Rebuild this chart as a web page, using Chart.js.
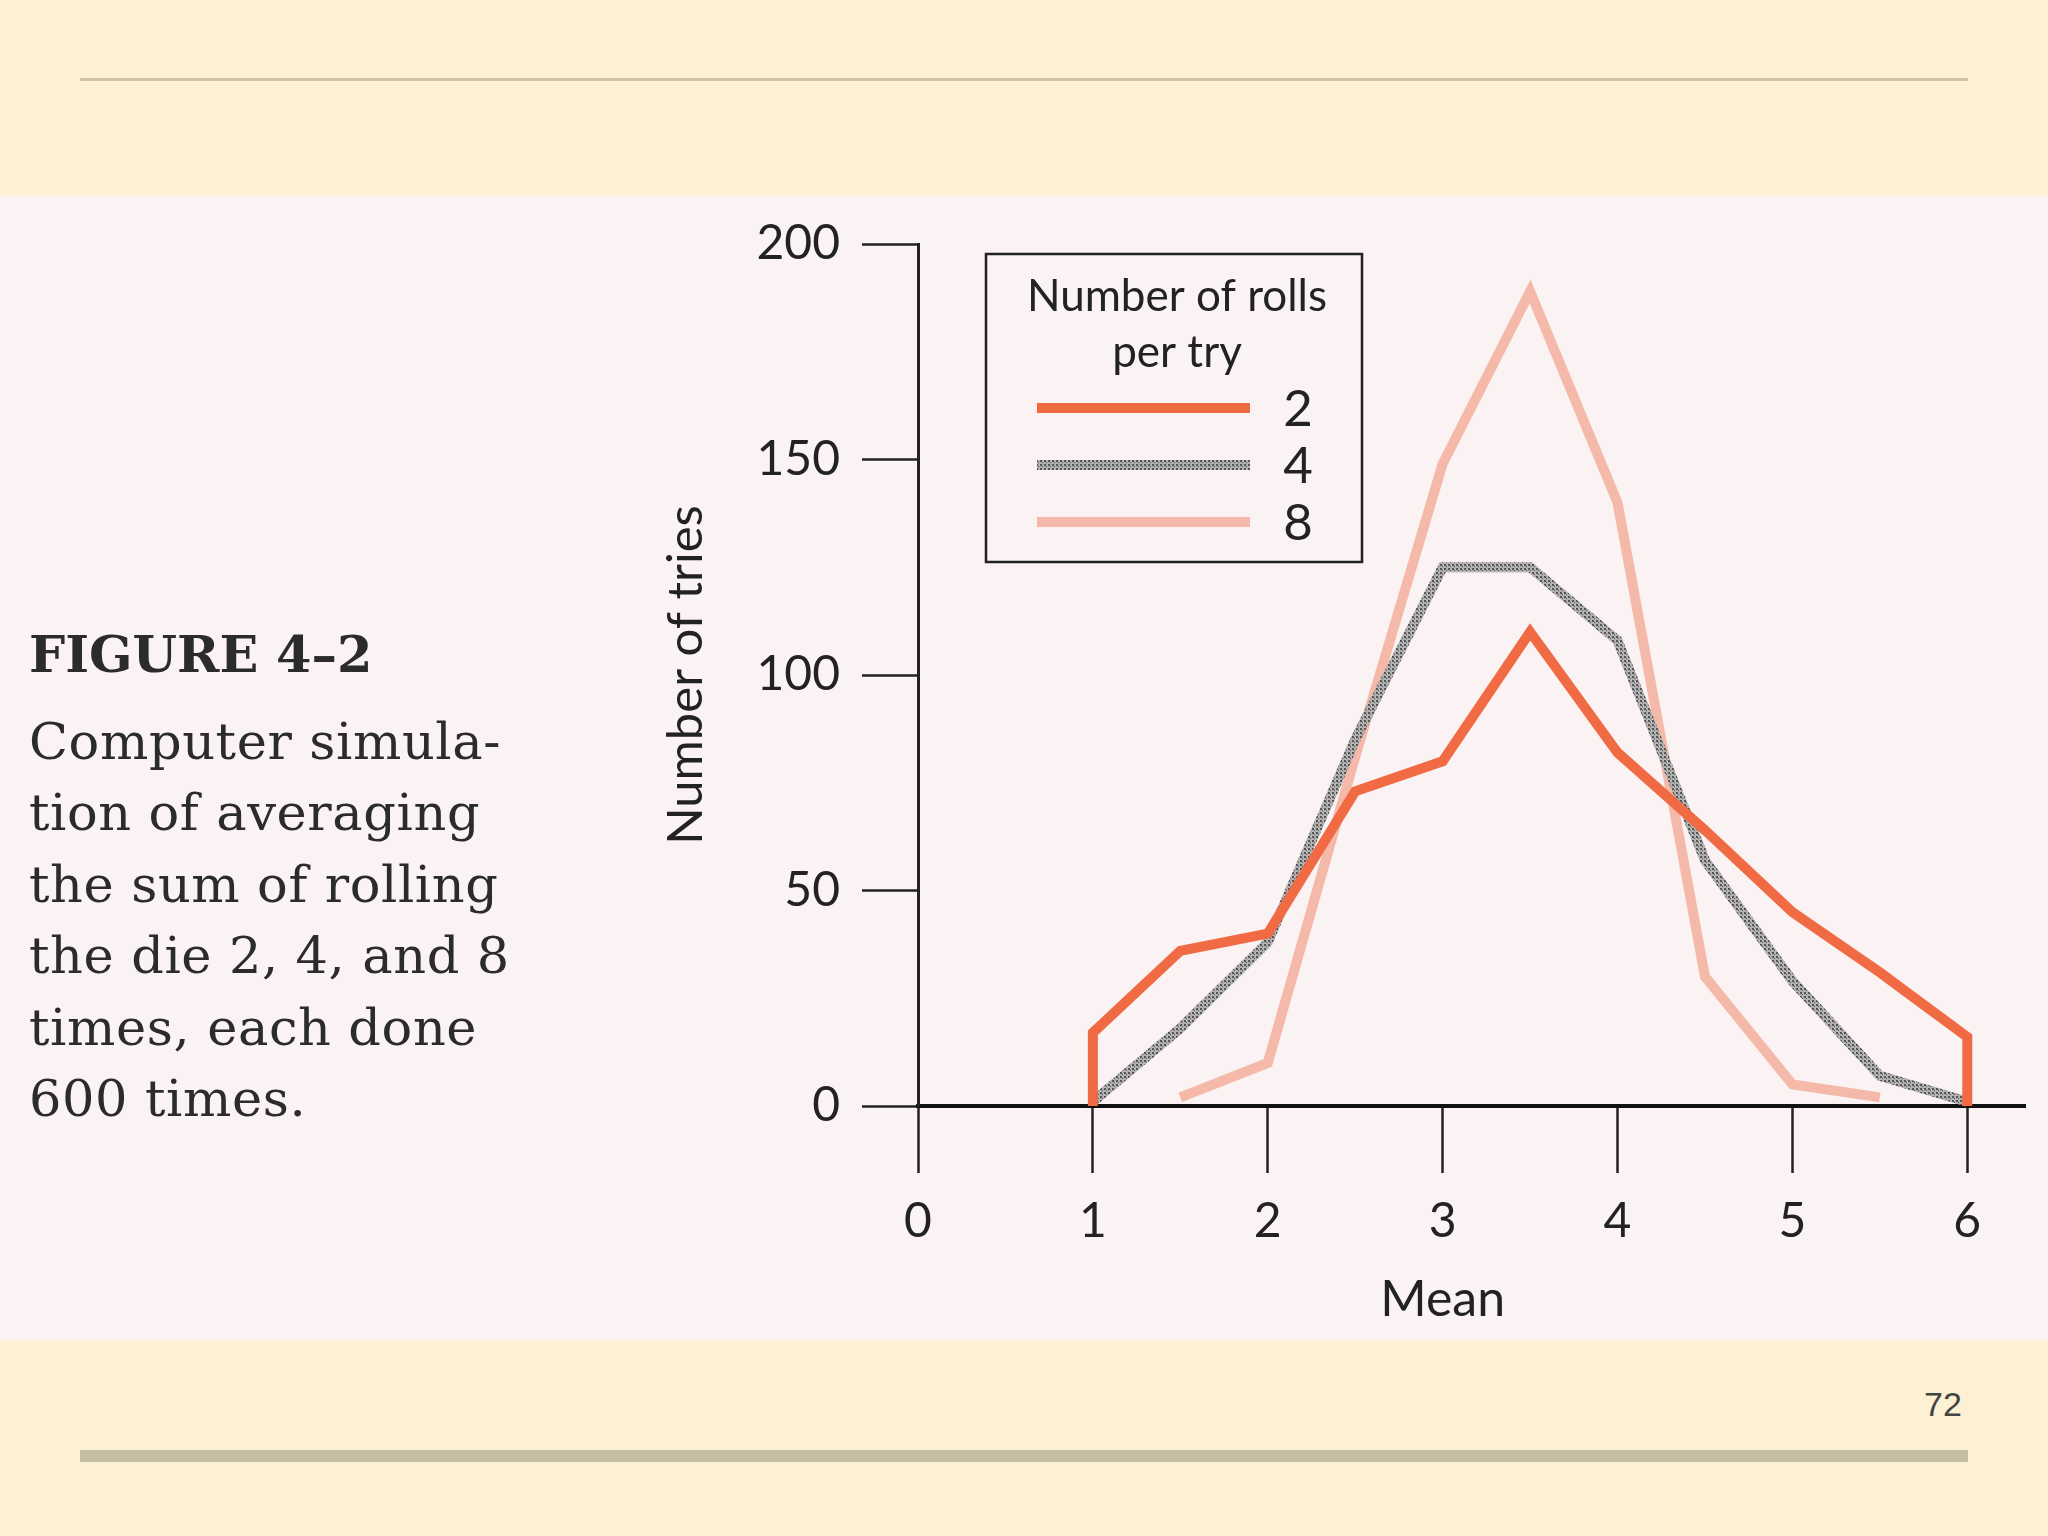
<!DOCTYPE html>
<html>
<head>
<meta charset="utf-8">
<script src="https://cdn.jsdelivr.net/npm/chart.js@4.4.1/dist/chart.umd.min.js"></script>
<style>
html, body { margin: 0; padding: 0; }
body { width: 2048px; height: 1536px; position: relative; overflow: hidden; background: #fcf2d3; }
#scan { position: absolute; left: 0; top: 196px; width: 2048px; height: 1144px; background: #fbf2f4; }
#topline { position: absolute; left: 80px; top: 78px; width: 1888px; height: 3px; background: #cfc5a5; }
#bottombar { position: absolute; left: 80px; top: 1450px; width: 1888px; height: 12px; background: #c6bfa5; }
#pagenum { position: absolute; left: 1924px; top: 1387px; font: 34px/34px "Liberation Sans", Arial, sans-serif; color: #444; }
#figtitle { position: absolute; left: 29px; top: 629px; font: bold 51px/51px "DejaVu Serif", serif; color: #2b2b2b; }
#caption { position: absolute; left: 29px; top: 706px; font: 51px/71.4px "DejaVu Serif", serif; letter-spacing: 0.6px; color: #2b2b2b; white-space: pre; }
canvas { position: absolute; left: 0; top: 0; }
</style>
</head>
<body>
<div id="scan"></div>
<div id="topline"></div>
<div id="bottombar"></div>
<div id="pagenum">72</div>
<div id="figtitle">FIGURE 4–2</div>
<div id="caption">Computer simula-
tion of averaging
the sum of rolling
the die 2, 4, and 8
times, each done
600 times.</div>
<canvas id="chart" width="2048" height="1536" style="width:2048px;height:1536px"></canvas>
<script>
// valeurs
const twoX = [1, 1, 1.5, 2, 2.5, 3, 3.5, 4, 4.5, 5, 5.5, 6, 6];
const twoY = [0, 17, 36, 40, 73, 80, 110, 82, 64, 45, 31, 16, 0];
const fourX = [1, 1.5, 2, 2.5, 3, 3.5, 4, 4.5, 5, 5.5, 6];
const fourY = [1, 18, 38, 85, 125, 125, 108, 57, 29, 7, 1];
const eightX = [1.5, 2, 2.5, 3, 3.5, 4, 4.5, 5, 5.5];
const eightY = [2, 10, 81, 149, 189, 140, 30, 5, 2];
const rollLabels = ['2', '4', '8'];
const xTicks = [0, 1, 2, 3, 4, 5, 6];
const yTicks = [0, 50, 100, 150, 200];

const canvas = document.getElementById('chart');
const ctx = canvas.getContext('2d');

// trame grise en pointillés
const dots = document.createElement('canvas');
dots.width = 4; dots.height = 4;
const dg = dots.getContext('2d');
dg.fillStyle = '#b2b2b2'; dg.fillRect(0, 0, 4, 4);
dg.fillStyle = '#555'; dg.fillRect(0, 0, 2, 2); dg.fillRect(2, 2, 1, 1);
const grayDots = ctx.createPattern(dots, 'repeat');

const toPoints = (xs, ys) => xs.map((x, i) => ({ x: x, y: ys[i] }));

const legendBox = {
    id: 'legendBox',
    afterDraw(chart) {
        const c = chart.ctx;
        const a = chart.chartArea;
        const left = a.left + 68, top = a.top + 10, w = 376, h = 308;
        c.save();
        c.strokeStyle = '#222';
        c.lineWidth = 2.5;
        c.strokeRect(left, top, w, h);
        c.fillStyle = '#222';
        c.textAlign = 'center';
        c.textBaseline = 'alphabetic';
        c.font = '44px Lato';
        c.fillText('Number of rolls', left + 191, top + 57);
        c.fillText('per try', left + 191, top + 113);
        c.font = '51px Lato';
        c.textBaseline = 'middle';
        chart.data.datasets.forEach((ds, i) => {
            const y = top + 154 + i * 57;
            c.strokeStyle = ds.borderColor;
            c.lineWidth = ds.borderWidth;
            c.beginPath();
            c.moveTo(left + 51, y);
            c.lineTo(left + 264, y);
            c.stroke();
            c.fillText(ds.label, left + 312, y + 2);
        });
        // titre de l'axe x, centré sous la moyenne 3
        const xs = chart.scales.x;
        c.font = '50px Lato';
        c.fillText('Mean', xs.getPixelForValue(3), 1300);
        c.restore();
    }
};

const lineStyle = { borderWidth: 10, pointRadius: 0, tension: 0, clip: false, borderJoinStyle: 'miter', borderCapStyle: 'butt' };

new Chart(ctx, {
    type: 'line',
    data: {
        datasets: [
            Object.assign({ label: rollLabels[0], data: toPoints(twoX, twoY), borderColor: '#f06a43' }, lineStyle),
            Object.assign({ label: rollLabels[1], data: toPoints(fourX, fourY), borderColor: grayDots }, lineStyle),
            Object.assign({ label: rollLabels[2], data: toPoints(eightX, eightY), borderColor: '#f4b9a8' }, lineStyle)
        ]
    },
    plugins: [legendBox],
    options: {
        responsive: false,
        animation: false,
        devicePixelRatio: 1,
        layout: { padding: { left: 640, top: 244, right: 23, bottom: 196 } },
        plugins: { legend: { display: false }, tooltip: { enabled: false } },
        scales: {
            x: {
                type: 'linear',
                min: 0,
                max: 6.33,
                afterBuildTicks: axis => { axis.ticks = xTicks.map(v => ({ value: v })); },
                ticks: { padding: 20, color: '#222', font: { family: 'Lato', size: 48 } },
                border: { display: true, color: '#111', width: 4 },
                grid: { drawOnChartArea: false, tickLength: 67, tickWidth: 2.5, tickColor: '#222' },
                afterFit: scale => { scale.height = 234; }
            },
            y: {
                min: 0,
                max: 200,
                afterBuildTicks: axis => { axis.ticks = yTicks.map(v => ({ value: v })); },
                ticks: { padding: 22, color: '#222', font: { family: 'Lato', size: 48 } },
                border: { display: true, color: '#222', width: 3 },
                grid: { drawOnChartArea: false, tickLength: 56, tickWidth: 2.5, tickColor: '#222' },
                title: { display: true, text: 'Number of tries', color: '#222', font: { family: 'Lato', size: 49 }, padding: { top: 17 } },
                afterFit: scale => { scale.width = 278; }
            }
        }
    }
});
</script>
</body>
</html>
